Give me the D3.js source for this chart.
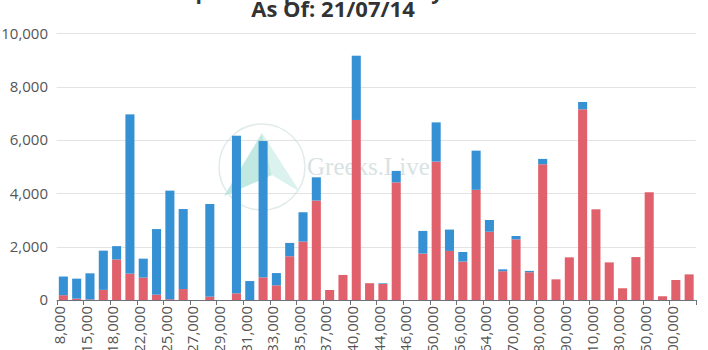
<!DOCTYPE html>
<html>
<head>
<meta charset="utf-8">
<script src="https://cdn.jsdelivr.net/npm/d3@7"></script>
<style>
  html, body { margin: 0; padding: 0; background: #fff; }
  svg { display: block; }
</style>
</head>
<body>
<svg id="chart" width="708" height="350"></svg>
<script>
// ---- data ----
const strikes = [
  "8,000","10,000","15,000","16,000","18,000","20,000","22,000","24,000",
  "25,000","26,000","27,000","28,000","29,000","30,000","31,000","32,000",
  "33,000","34,000","35,000","36,000","37,000","38,000","40,000","42,000",
  "44,000","45,000","46,000","48,000","50,000","55,000","56,000","60,000",
  "64,000","65,000","70,000","75,000","80,000","85,000","90,000","100,000",
  "110,000","120,000","130,000","140,000","150,000","160,000","200,000","250,000"
];
// bottom series (red)
const callsOI = [
  180, 50, 20, 380, 1520, 990, 840, 200,
  30, 410, 0, 125, 0, 250, 0, 850,
  550, 1640, 2190, 3730, 375, 940, 6750, 630,
  600, 4410, 0, 1740, 5190, 1840, 1440, 4130,
  2560, 1080, 2275, 1040, 5090, 775, 1600, 7150,
  3400, 1410, 440, 1610, 4040, 140, 750, 960
];
// top series (blue)
const putsOI = [
  700, 750, 980, 1470, 500, 5970, 710, 2460,
  4070, 3000, 0, 3475, 0, 5910, 710, 5110,
  460, 500, 1100, 870, 0, 0, 2410, 0,
  25, 430, 0, 850, 1470, 800, 360, 1470,
  440, 70, 125, 50, 200, 0, 0, 275,
  0, 0, 0, 0, 0, 0, 0, 0
];
const yTicks = [0, 2000, 4000, 6000, 8000, 10000];
const titleLine1 = "BTC Options Open Interest by Strike Price";
const titleLine2 = "As Of: 21/07/14";
const watermarkText = "Greeks.Live";

(function () {
// ---- layout ----
const svg = d3.select("#chart");
const pLeft = 56.7, pRight = 695.8, pTop = 33.3, pBottom = 300;
const colorCalls = "#e0616b";
const colorPuts = "#3591d3";

const x = d3.scaleBand().domain(strikes).range([pLeft, pRight])
  .paddingInner(0.32).paddingOuter(0.16);
const y = d3.scaleLinear().domain([0, 10000]).range([pBottom, pTop]);

// titles
svg.append("text").attr("x", 351).attr("y", -1.5).attr("text-anchor", "middle")
  .attr("font-family", "Open Sans").attr("font-weight", "bold").attr("font-size", 21)
  .attr("fill", "#333").text(titleLine1);
svg.append("text").attr("x", 333).attr("y", 16.8).attr("text-anchor", "middle")
  .attr("font-family", "Open Sans").attr("font-weight", "bold").attr("font-size", 22)
  .attr("fill", "#333").text(titleLine2);

// grid lines + y labels
const gy = svg.append("g");
gy.selectAll("line").data(yTicks.slice(1)).join("line")
  .attr("x1", pLeft).attr("x2", pRight)
  .attr("y1", d => Math.round(y(d)) + 0.5).attr("y2", d => Math.round(y(d)) + 0.5)
  .attr("stroke", "#e3e3e3").attr("stroke-width", 1);
gy.selectAll("text").data(yTicks).join("text")
  .attr("x", 48).attr("y", d => y(d)).attr("dy", "0.36em")
  .attr("text-anchor", "end").attr("font-family", "Open Sans").attr("font-size", 15)
  .attr("fill", "#555").text(d => d3.format(",")(d));

// watermark
const wm = svg.append("g").attr("opacity", 0.55);
wm.append("circle").attr("cx", 262).attr("cy", 167).attr("r", 43)
  .attr("fill", "none").attr("stroke", "#c9dcdc").attr("stroke-width", 1.5);
wm.append("path").attr("d", "M224,196 L262,133 L272,175 Z").attr("fill", "#8fd8cc");
wm.append("path").attr("d", "M262,133 L300,192 L272,175 Z").attr("fill", "#bfe8e2");
wm.append("text").attr("x", 307).attr("y", 175).attr("font-family", "Liberation Serif")
  .attr("font-size", 25).attr("fill", "#b9cccc").text(watermarkText);

// bars
const stacked = strikes.map((s, i) => ({ s, c: callsOI[i], p: putsOI[i] }));
const gb = svg.append("g");
gb.selectAll("rect.c").data(stacked).join("rect").attr("class", "c")
  .attr("x", d => x(d.s)).attr("width", x.bandwidth())
  .attr("y", d => y(d.c)).attr("height", d => y(0) - y(d.c))
  .attr("fill", colorCalls);
gb.selectAll("rect.p").data(stacked).join("rect").attr("class", "p")
  .attr("x", d => x(d.s)).attr("width", x.bandwidth())
  .attr("y", d => y(d.c + d.p)).attr("height", d => y(d.c) - y(d.c + d.p))
  .attr("fill", colorPuts);

// x axis
const half = (x.step() - x.bandwidth()) / 2;
const tickPos = strikes.filter((d, i) => i % 2 === 0).map(d => x(d) - half).concat([pRight]);
const gx = svg.append("g");
gx.append("line").attr("x1", pLeft).attr("x2", pRight).attr("y1", pBottom + 0.5).attr("y2", pBottom + 0.5)
  .attr("stroke", "#6e7079").attr("stroke-width", 1);
gx.selectAll("line.t").data(tickPos).join("line").attr("class", "t")
  .attr("x1", d => Math.round(d) + 0.5).attr("x2", d => Math.round(d) + 0.5)
  .attr("y1", pBottom).attr("y2", pBottom + 5)
  .attr("stroke", "#6e7079").attr("stroke-width", 1);
gx.selectAll("text").data(strikes.filter((d, i) => i % 2 === 0)).join("text")
  .attr("transform", d => `translate(${x(d) + x.bandwidth() / 2 + 1.8},306) rotate(-90)`)
  .attr("text-anchor", "end").attr("font-family", "Open Sans").attr("font-size", 15)
  .attr("fill", "#555").text(d => d);
})();
</script>
</body>
</html>
